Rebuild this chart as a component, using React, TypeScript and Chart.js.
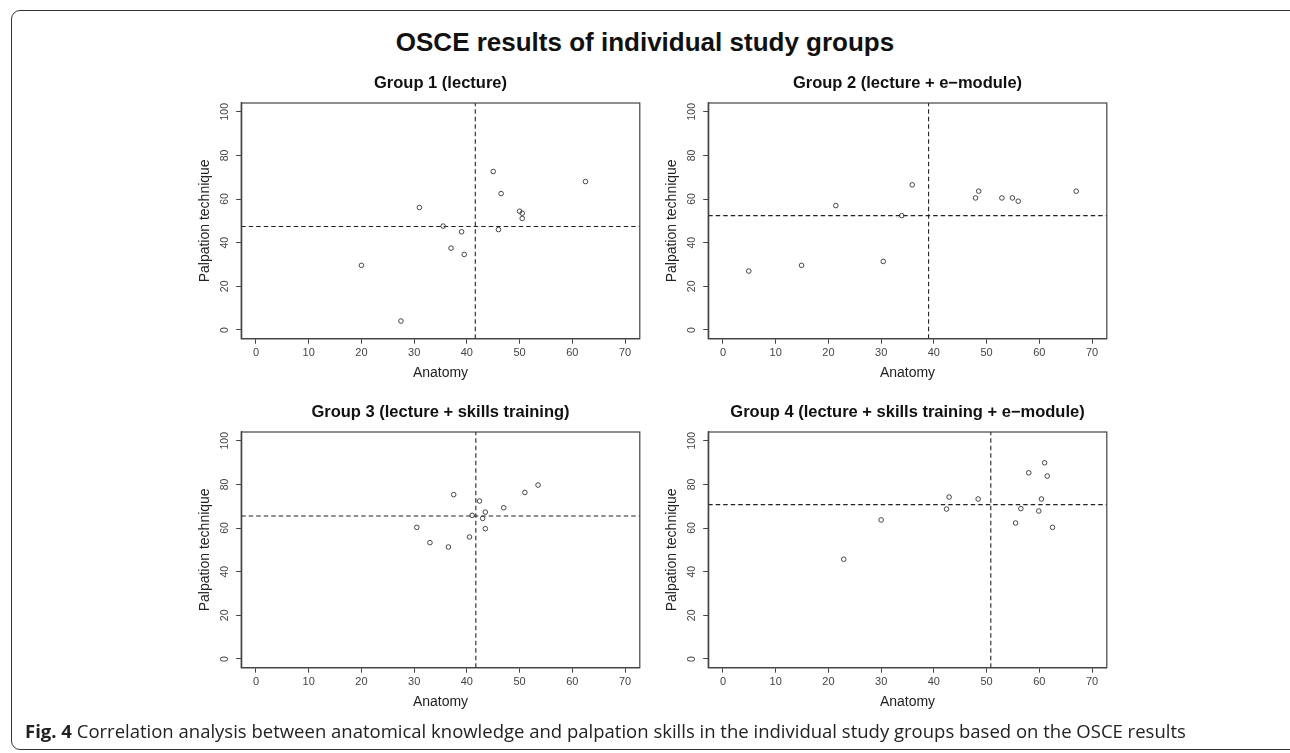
import React, { useEffect, useRef } from "react";
import { Chart, registerables } from "chart.js";

Chart.register(...registerables);

// ---- data ----
const X_TICKS = [0, 10, 20, 30, 40, 50, 60, 70];
const Y_TICKS = [0, 20, 40, 60, 80, 100];
const X_MIN = -2.8;
const X_MAX = 72.8;
const Y_MIN = -4;
const Y_MAX = 104;

const MAIN_TITLE = "OSCE results of individual study groups";
const X_LABEL = "Anatomy";
const Y_LABEL = "Palpation technique";
const GROUP_TITLES = [
  "Group 1 (lecture)",
  "Group 2 (lecture + e\u2212module)",
  "Group 3 (lecture + skills training)",
  "Group 4 (lecture + skills training + e\u2212module)",
];

const G1_ANATOMY = [45.0, 62.5, 46.5, 31.0, 50.0, 50.5, 50.5, 35.5, 39.0, 46.0, 37.0, 39.5, 20.0, 27.5];
const G1_PALPATION = [72.6, 68.0, 62.5, 56.1, 54.4, 53.5, 51.1, 47.6, 45.0, 46.0, 37.5, 34.6, 29.6, 4.1];
const G1_MEANS = [41.6, 47.4];

const G2_ANATOMY = [4.9, 14.9, 30.4, 21.4, 33.9, 35.9, 48.5, 47.9, 52.9, 54.9, 56.0, 67.0];
const G2_PALPATION = [27.0, 29.6, 31.4, 57.0, 52.4, 66.5, 63.6, 60.5, 60.5, 60.5, 59.0, 63.6];
const G2_MEANS = [39.0, 52.4];

const G3_ANATOMY = [37.5, 42.4, 53.5, 51.0, 47.0, 43.5, 41.0, 43.0, 43.5, 40.5, 30.5, 33.0, 36.5];
const G3_PALPATION = [75.3, 72.4, 79.7, 76.3, 69.3, 67.3, 65.8, 64.4, 59.7, 55.9, 60.3, 53.3, 51.3];
const G3_MEANS = [41.7, 65.5];

const G4_ANATOMY = [61.0, 58.0, 61.5, 42.9, 48.4, 60.4, 42.4, 56.5, 59.9, 55.5, 62.5, 30.0, 22.9];
const G4_PALPATION = [89.9, 85.3, 83.8, 74.2, 73.3, 73.3, 68.7, 68.9, 67.8, 62.3, 60.3, 63.7, 45.7];
const G4_MEANS = [50.8, 70.7];

const FONT = "'Liberation Sans', Arial, Helvetica, sans-serif";

const boxPlugin = {
  id: "rbox",
  afterDatasetsDraw(chart: any) {
    const { ctx, chartArea } = chart;
    ctx.save();
    ctx.strokeStyle = "#444";
    ctx.lineWidth = 1.2;
    ctx.strokeRect(chartArea.left, chartArea.top, chartArea.right - chartArea.left, chartArea.bottom - chartArea.top);
    ctx.restore();
  },
};

type PanelProps = {
  title: string;
  xs: number[];
  ys: number[];
  means: number[];
  left: number;
  top: number;
};

const CW = 470;
const CH = 331;

function Panel({ title, xs, ys, means, left, top }: PanelProps) {
  const ref = useRef<HTMLCanvasElement>(null);
  useEffect(() => {
    if (!ref.current) return;
    const dash = [4.5, 3];
    const chart = new Chart(ref.current, {
      type: "scatter",
      data: {
        datasets: [
          {
            data: xs.map((x, i) => ({ x, y: ys[i] })),
            pointStyle: "circle",
            pointRadius: 2.3,
            pointHoverRadius: 2.3,
            borderColor: "#333",
            borderWidth: 0.9,
            backgroundColor: "rgba(0,0,0,0)",
          },
          {
            data: [
              { x: means[0], y: Y_MIN },
              { x: means[0], y: Y_MAX },
            ],
            showLine: true,
            borderColor: "#222",
            borderWidth: 1.1,
            borderDash: dash,
            pointRadius: 0,
          },
          {
            data: [
              { x: X_MIN, y: means[1] },
              { x: X_MAX, y: means[1] },
            ],
            showLine: true,
            borderColor: "#222",
            borderWidth: 1.1,
            borderDash: dash,
            pointRadius: 0,
          },
        ],
      } as any,
      options: {
        animation: false,
        responsive: false,
        events: [],
        layout: { padding: { left: 11.2, right: 10.2, top: 0, bottom: 0 } },
        plugins: {
          legend: { display: false },
          tooltip: { enabled: false },
          title: {
            display: true,
            text: title,
            fullSize: false,
            color: "#111",
            font: { family: FONT, size: 16.5, weight: "bold" },
            padding: { top: 13.1, bottom: 10.1 },
          },
        },
        scales: {
          x: {
            type: "linear",
            min: X_MIN,
            max: X_MAX,
            afterBuildTicks: (s: any) => {
              s.ticks = X_TICKS.map((v) => ({ value: v }));
            },
            afterFit: (s: any) => {
              s.height = 52.3;
            },
            ticks: {
              autoSkip: false,
              maxRotation: 0,
              minRotation: 0,
              padding: 2.7,
              color: "#444",
              font: { family: FONT, size: 11 },
              callback: (v: any) => String(v),
            },
            grid: { display: true, drawOnChartArea: false, drawTicks: true, tickLength: 5, color: "#444", lineWidth: 1 },
            border: { display: true, color: "#444", width: 1.3 },
            title: {
              display: true,
              text: X_LABEL,
              color: "#222",
              font: { family: FONT, size: 14 },
              padding: { top: 0, bottom: 9.1 },
            },
          },
          y: {
            type: "linear",
            min: Y_MIN,
            max: Y_MAX,
            afterBuildTicks: (s: any) => {
              s.ticks = Y_TICKS.map((v) => ({ value: v }));
            },
            afterFit: (s: any) => {
              s.width = 50;
            },
            ticks: {
              autoSkip: false,
              minRotation: 90,
              maxRotation: 90,
              crossAlign: "center",
              padding: 2.5,
              color: "#444",
              font: { family: FONT, size: 10.5 },
              callback: (v: any) => String(v),
            },
            grid: { display: true, drawOnChartArea: false, drawTicks: true, tickLength: 5, color: "#444", lineWidth: 1 },
            border: { display: true, color: "#444", width: 1.3 },
            title: {
              display: true,
              text: Y_LABEL,
              color: "#222",
              font: { family: FONT, size: 14 },
              padding: { top: 5.9, bottom: 0 },
            },
          },
        },
      } as any,
      plugins: [boxPlugin],
    });
    return () => chart.destroy();
  }, [title, xs, ys, means]);

  return (
    <canvas
      ref={ref}
      width={CW}
      height={CH}
      style={{ position: "absolute", left, top, width: CW, height: CH }}
    />
  );
}

export default function App() {
  return (
    <div
      style={{
        position: "fixed",
        left: 0,
        top: 0,
        width: 1290,
        height: 753,
        overflow: "hidden",
        background: "#fff",
      }}
    >
      <div
        style={{
          position: "absolute",
          left: 11,
          top: 10,
          width: 1290,
          height: 740,
          border: "1.5px solid #333",
          borderRadius: 9,
          boxSizing: "border-box",
        }}
      />
      <div
        style={{
          position: "absolute",
          left: 0,
          width: 1290,
          top: 27,
          textAlign: "center",
          fontFamily: FONT,
          fontWeight: "bold",
          fontSize: 26,
          lineHeight: "30px",
          color: "#111",
        }}
      >
        {MAIN_TITLE}
      </div>
      <Panel title={GROUP_TITLES[0]} xs={G1_ANATOMY} ys={G1_PALPATION} means={G1_MEANS} left={180} top={60} />
      <Panel title={GROUP_TITLES[1]} xs={G2_ANATOMY} ys={G2_PALPATION} means={G2_MEANS} left={647} top={60} />
      <Panel title={GROUP_TITLES[2]} xs={G3_ANATOMY} ys={G3_PALPATION} means={G3_MEANS} left={180} top={389} />
      <Panel title={GROUP_TITLES[3]} xs={G4_ANATOMY} ys={G4_PALPATION} means={G4_MEANS} left={647} top={389} />
      <div
        style={{
          position: "absolute",
          left: 25,
          top: 720,
          whiteSpace: "nowrap",
          fontFamily: "'Open Sans', sans-serif",
          fontSize: 18.5,
          lineHeight: "22px",
          color: "#222",
        }}
      >
        <span style={{ fontWeight: "bold" }}>Fig. 4</span> Correlation analysis between anatomical knowledge and palpation
        skills in the individual study groups based on the OSCE results
      </div>
    </div>
  );
}
